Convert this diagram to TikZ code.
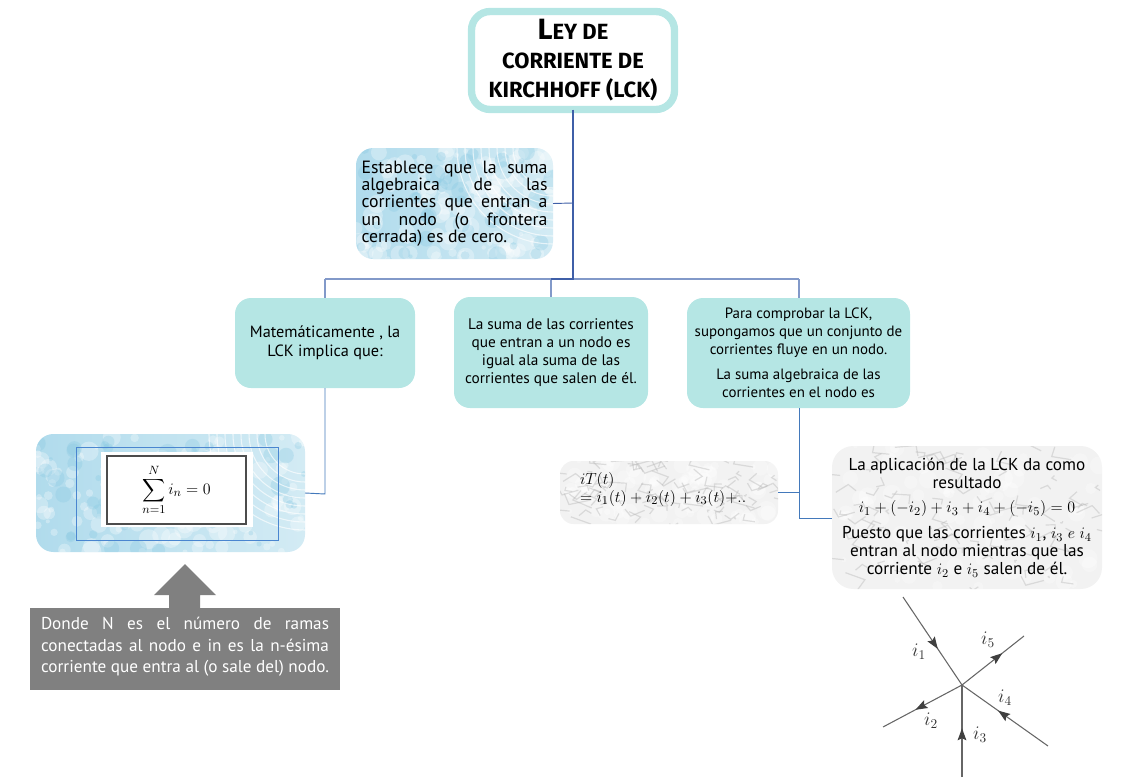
\documentclass[tikz,border=0pt]{standalone}
\usepackage{amsmath}
\usepackage{fontspec}
\setmainfont{PT Sans}
\newfontfamily\titlefont{Fira Sans}
\usetikzlibrary{calc,decorations.markings,arrows.meta}
\definecolor{aqua}{HTML}{B5E6E4}
\definecolor{trunk}{HTML}{3F5FA8}
\definecolor{branch}{HTML}{8299C9}
\definecolor{frameblue}{HTML}{4A86D0}
\definecolor{wetblue}{HTML}{D3EBF4}
\definecolor{inkblue}{HTML}{86C8E2}
\definecolor{veingray}{HTML}{B4B4B4}
\definecolor{slab}{HTML}{808080}
\newcommand{\blotches}[3]{%
    \pgfmathsetseed{#1}
    \path (path picture bounding box.south west) coordinate (sw)
          (path picture bounding box.north east) coordinate (ne);
    \foreach \i in {1,...,#2}{
        \pgfmathsetmacro\bx{rnd}
        \pgfmathsetmacro\by{rnd}
        \pgfmathsetmacro\br{1.5+6*rnd}
        \fill[#3,opacity=.3] let \p1=(sw),\p2=(ne) in
            ({\x1+\bx*(\x2-\x1)},{\y1+\by*(\y2-\y1)}) circle[radius=\br pt];
    }
}
\newcommand{\swirls}{%
    \foreach \r in {30,36,...,72}{
        \draw[white,line width=.8pt,opacity=.65] (ne) circle[radius=\r pt];
    }
}
\newcommand{\veins}[2]{%
    \pgfmathsetseed{#1}
    \path (path picture bounding box.south west) coordinate (sw)
          (path picture bounding box.north east) coordinate (ne);
    \foreach \i in {1,...,#2}{
        \pgfmathsetmacro\bx{rnd}
        \pgfmathsetmacro\by{rnd}
        \pgfmathsetmacro\dx{34*rnd-17}
        \pgfmathsetmacro\dy{12*rnd-6}
        \draw[veingray,sharp corners,line width=.9pt,opacity=.4] let \p1=(sw),\p2=(ne),
            \n1={\x1+\bx*(\x2-\x1)},\n2={\y1+\by*(\y2-\y1)} in
            (\n1,\n2) -- ++(\dx pt,\dy pt) -- ++(\dy pt,-.5*\dx pt);
    }
}
\tikzset{
    x=0.75pt, y=-0.75pt,
    every node/.style={font=\fontsize{11.5}{13.5}\selectfont, inner sep=0pt, outer sep=0pt},
    titlebox/.style={draw=aqua, line width=5.5pt, fill=white, rounded corners=14pt, align=center},
    tealbox/.style={fill=aqua, rounded corners=12pt, align=center},
    bluemarble/.style={rounded corners=13pt, left color=inkblue!65, right color=wetblue, path picture={
        \blotches{#1}{130}{white}\blotches{#1 7}{50}{inkblue}\swirls}},
    graymarble/.style={rounded corners=#1, fill=black!5, path picture={\blotches{5}{90}{white}\veins{5}{90}}},
    trunkline/.style={draw=trunk, line width=1pt},
    branchline/.style={draw=branch, line width=.9pt},
    dropline/.style={draw=frameblue!90!black, line width=.7pt},
    wire/.style={draw=black!60, line width=.8pt},
    flow/.style={postaction={decorate}, decoration={markings,
        mark=at position #1 with {\arrow[black!75]{Stealth[length=9pt,width=6.5pt,inset=1.5pt]}}}},
    currlabel/.style={font=\fontsize{14}{15}\selectfont, text=black!80},
}
\begin{document}
\begin{tikzpicture}
    \useasboundingbox (0,0) rectangle (1147,778);

    \node [titlebox, minimum width=152.25pt, minimum height=73.5pt] (title) at (573,60.5) {};
    \node [font=\titlefont\bfseries\fontsize{16.5}{21.5}\selectfont, align=center] (titletext) at (573,60)
        {{\fontsize{22}{21.5}\selectfont L}EY DE\\CORRIENTE DE\\KIRCHHOFF (LCK)};

    \node [bluemarble=3, minimum width=147.75pt, minimum height=83.25pt, text width=139.5pt, align=justify,
        font=\fontsize{13.3}{13}\selectfont] (estab) at (454.5,203.5)
        {Establece que la suma\linebreak algebraica de las\linebreak corrientes que entran a\linebreak
        un nodo (o frontera\linebreak cerrada) es de cero.};

    \node [tealbox, minimum width=135pt, minimum height=67.5pt, font=\fontsize{12.2}{14}\selectfont] (mate) at (325,343)
        {Matemáticamente , la\\LCK implica que:};
    \node [tealbox, minimum width=145.5pt, minimum height=83.25pt] (suma) at (551,352.5)
        {La suma de las corrientes\\que entran a un nodo es\\igual ala suma de las\\corrientes que salen de él.};
    \node [tealbox, minimum width=167.25pt, minimum height=82.5pt, font=\fontsize{11.2}{13.5}\selectfont] (para) at (798.5,353)
        {Para comprobar la LCK,\\supongamos que un conjunto de\\corrientes fluye en un nodo.\\[5.5pt]
        La suma algebraica de las\\corrientes en el nodo es};

    \node [bluemarble=11, minimum width=201.75pt, minimum height=88.5pt] (formula) at (170.5,493) {};
    \node [draw=frameblue, line width=.6pt, minimum width=151.5pt, minimum height=69.75pt] (inner) at (177,493.5) {};
    \node [fill=white, minimum width=114pt, minimum height=56.25pt] (paper) at (177,489.5) {};
    \node [draw=black!70, line width=1pt, fill=white, minimum width=104.25pt, minimum height=51pt,
        font=\fontsize{13}{15}\selectfont] (sumbox) at (176.5,490) {$\displaystyle\sum_{n=1}^{N} i_n = 0$};

    \node [fill=slab, minimum width=232.5pt, minimum height=61.5pt, text=white, text width=216pt, align=justify,
        font=\fontsize{12.9}{16}\selectfont] (donde) at (185,649)
        {Donde N es el número de ramas\linebreak conectadas al nodo e in es la n-ésima\linebreak
        corriente que entra al (o sale del) nodo.\par\vspace{3pt}};
    \fill [slab] (169,608) -- (169,595) -- (154,595) -- (185,564) -- (216,595) -- (200,595) -- (200,608) -- cycle;

    \node [graymarble=10pt, minimum width=163.5pt, minimum height=47.25pt] (itotal) at (669,492.5) {};
    \node [anchor=west, align=left, font=\fontsize{12.8}{13.5}\selectfont] (itext) at (580,489)
        {$iT(t)$\\$=i_1(t)+i_2(t)+i_3(t){+}..$};

    \node [graymarble=16pt, minimum width=202.5pt, minimum height=107.25pt] (aplica) at (967,517.5) {};
    \node [align=center, font=\fontsize{12.9}{13.5}\selectfont] (atext) at (967,517.5)
        {La aplicación de la LCK da como\\resultado\\[5pt]
        {\fontsize{12.4}{13.5}\selectfont $i_1+(-i_2)+i_3+i_4+(-i_5)=0$}\\[6pt]
        Puesto que las corrientes $i_1$, $i_3$ $e$ $i_4$\\
        entran al nodo mientras que las\\
        corriente $i_2$ e $i_5$ salen de él.};

    \coordinate (spine) at (573,279);
    \coordinate (estabjoin) at (573,203);
    \coordinate (leftbar) at (325,279);
    \coordinate (midbar) at (551,279);
    \coordinate (rightbar) at (799,279);
    \coordinate (matejoin) at (325,494);
    \coordinate (parajoin) at (799,492);
    \coordinate (aplijoin) at (799,518);

    \draw [branchline] (leftbar) -- (rightbar);
    \draw [branchline] (leftbar) -- (mate.north -| leftbar);
    \draw [branchline] (midbar) -- (suma.north -| midbar);
    \draw [branchline] (rightbar) -- (para.north -| rightbar);
    \draw [trunkline] (title.south) -- (spine) -- (midbar);
    \draw [trunkline, line width=.7pt] (estab.east) -- (estabjoin);
    \draw [dropline] (mate.south) -- (matejoin) -- (formula.east);
    \draw [dropline] (para.south -| aplijoin) -- (aplijoin) -- (aplica.west |- aplijoin);
    \draw [dropline] (parajoin) -- (itotal.east |- parajoin);

    \coordinate (hub) at (962,685);
    \coordinate (end1) at (903,597);
    \coordinate (end2) at (883,727);
    \coordinate (end3) at (962,777);
    \coordinate (end4) at (1048,746);
    \coordinate (end5) at (1024,636);

    \draw [wire, flow=0.59] (end1) -- (hub);
    \draw [wire, flow=0.59] (hub) -- (end2);
    \draw [wire, line width=1.1pt, flow=0.53] (end3) -- (hub);
    \draw [wire, flow=0.58] (end4) -- (hub);
    \draw [wire, flow=0.65] (hub) -- (end5);

    \node [currlabel] (i1) at (919,652) {$i_1$};
    \node [currlabel] (i2) at (931,721) {$i_2$};
    \node [currlabel] (i3) at (980,735) {$i_3$};
    \node [currlabel] (i4) at (1005,698) {$i_4$};
    \node [currlabel] (i5) at (988,640) {$i_5$};
\end{tikzpicture}
\end{document}
